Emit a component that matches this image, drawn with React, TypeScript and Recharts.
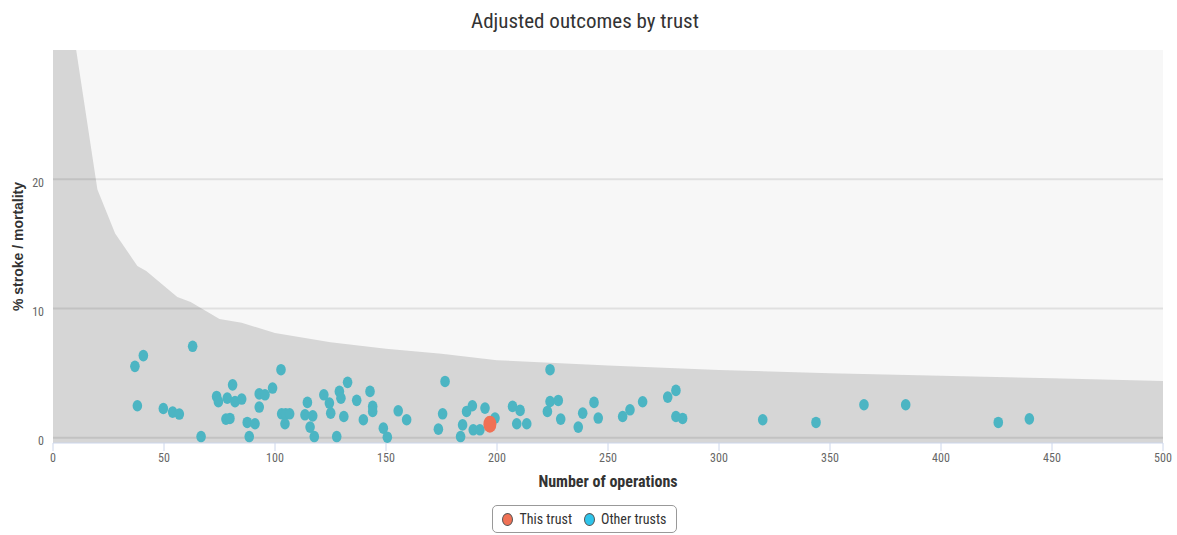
import React from 'react';
import { ComposedChart, Area, Scatter, XAxis, YAxis, CartesianGrid, ReferenceLine } from 'recharts';

const FONT = "'Liberation Sans Narrow', 'Roboto Condensed', Arial, sans-serif";

// upper control limit of the funnel (x = operations, upper = %)
const funnelX = [0, 10, 20, 28, 38, 42, 56, 62, 75, 85, 100, 125, 150, 175, 200, 250, 300, 350, 400, 450, 500];
const funnelUpper = [60, 30.5, 19.2, 15.8, 13.3, 12.9, 10.9, 10.5, 9.2, 8.9, 8.1, 7.4, 6.9, 6.5, 6.0, 5.6, 5.25, 5.0, 4.8, 4.6, 4.4];

const otherX = [
  36.9, 40.7, 38.0, 62.9, 49.7, 53.9, 56.9, 66.7, 73.7, 74.5, 80.9, 78.5, 82, 85, 77.9, 79.7, 87.5, 91, 88.4,
  92.9, 92.9, 95.5, 98.9, 102.7, 103, 104.8, 106.6, 104.5, 113.5, 114.6, 117, 115.8, 117.7, 122, 124.5, 125.1,
  129, 129.7, 132.7, 131, 127.8, 136.8, 139.8, 142.8, 144, 144, 148.8, 150.6, 155.5, 159.3, 176.6, 175.5, 173.6,
  186.3, 184.5, 183.6, 188.9, 189.3, 192.3, 194.6, 199.1, 207, 210.4, 208.9, 213.4, 223.9, 223.9, 222.7, 227.6,
  228.7, 236.6, 238.6, 243.7, 245.6, 256.6, 259.9, 265.6, 276.9, 280.6, 280.6, 283.6, 319.7, 343.7, 365.3,
  384.1, 425.8, 439.8,
];
const otherY = [
  5.53, 6.36, 2.48, 7.08, 2.27, 1.99, 1.84, 0.1, 3.2, 2.8, 4.1, 3.07, 2.8, 3.0, 1.45, 1.5, 1.19, 1.09, 0.1,
  2.38, 3.4, 3.33, 3.85, 5.27, 1.86, 1.86, 1.86, 1.09, 1.78, 2.74, 1.7, 0.83, 0.1, 3.33, 2.69, 1.91,
  3.59, 3.07, 4.29, 1.65, 0.1, 2.9, 1.4, 3.59, 2.43, 2.04, 0.75, 0.05, 2.09, 1.4, 4.36, 1.86, 0.67,
  2.04, 1.0, 0.1, 2.48, 0.62, 0.62, 2.3, 1.53, 2.43, 2.12, 1.09, 1.09, 5.27, 2.81, 2.04, 2.89,
  1.45, 0.83, 1.91, 2.74, 1.53, 1.65, 2.17, 2.79, 3.15, 3.67, 1.65, 1.5, 1.4, 1.19, 2.56,
  2.56, 1.19, 1.47,
];
const thisX = [196.8];
const thisY = [1.06];

const xTicks = [0, 50, 100, 150, 200, 250, 300, 350, 400, 450, 500];
const yTicks = [0, 10, 20];

const funnelData = funnelX.map((x, i) => ({ x, upper: funnelUpper[i] }));
const otherData = otherX.map((x, i) => ({ x, y: otherY[i] }));
const thisData = thisX.map((x, i) => ({ x, y: thisY[i] }));

const TEAL = '#4cb5c3';
const ORANGE = '#f07155';

const dot = (fill: string, rx: number, ry: number) => (p: any) => (
  <ellipse cx={p.cx} cy={p.cy} rx={rx} ry={ry} fill={fill} />
);

export default function App() {
  return (
    <div style={{ position: 'absolute', left: 0, top: 0, width: 1177, height: 535, background: '#fff', fontFamily: FONT }}>
      <div style={{ position: 'absolute', top: 9, left: 0, width: 1170, textAlign: 'center', fontSize: 21, color: '#333' }}>
        Adjusted outcomes by trust
      </div>
      <ComposedChart width={1177} height={535} data={funnelData} margin={{ top: 50, right: 14, bottom: 62, left: 0 }}>
        <CartesianGrid fill="#f7f7f7" horizontal={false} vertical={false} />
        <XAxis
          type="number"
          dataKey="x"
          domain={[0, 500]}
          ticks={xTicks}
          interval={0}
          height={30}
          stroke="#ccd6eb"
          tickSize={8}
          tickMargin={2}
          tick={{ fill: '#666', fontSize: 12, fontFamily: FONT }}
          label={{ value: 'Number of operations', position: 'bottom', offset: 3, fill: '#333', fontSize: 16, fontWeight: 'bold', fontFamily: FONT }}
        />
        <YAxis
          type="number"
          dataKey="y"
          domain={[-0.4, 30]}
          allowDataOverflow
          ticks={yTicks}
          width={53}
          axisLine={false}
          tickLine={false}
          tickSize={0}
          tickMargin={9}
          tick={{ fill: '#666', fontSize: 12, fontFamily: FONT, dy: 3 }}
          label={{ value: '% stroke / mortality', angle: -90, position: 'insideLeft', offset: 18, fill: '#333', fontSize: 14, fontWeight: 'bold', fontFamily: "'Liberation Sans', Arial, sans-serif", style: { textAnchor: 'middle' } }}
        />
        <Area type="linear" dataKey="upper" baseValue="dataMin" fill="#d6d6d6" fillOpacity={1} stroke="none" isAnimationActive={false} />
        {yTicks.map((t) => (
          <ReferenceLine key={t} y={t} stroke="rgba(0,0,0,0.09)" strokeWidth={2} />
        ))}
        <Scatter name="Other trusts" data={otherData} fill={TEAL} shape={dot(TEAL, 4.8, 5.8)} isAnimationActive={false} />
        <Scatter name="This trust" data={thisData} fill={ORANGE} shape={dot(ORANGE, 6.5, 8.5)} isAnimationActive={false} />
      </ComposedChart>
      <div
        style={{
          position: 'absolute', left: 492, top: 505, width: 185, height: 28, boxSizing: 'border-box',
          border: '1px solid #999', borderRadius: 5, display: 'flex', alignItems: 'center', justifyContent: 'center',
          fontSize: 14, color: '#333', gap: 6,
        }}
      >
        <span style={{ display: 'inline-block', width: 11, height: 13, borderRadius: '50%', background: ORANGE, border: '1px solid #555', boxSizing: 'border-box' }} />
        <span>This trust</span>
        <span style={{ display: 'inline-block', width: 11, height: 13, borderRadius: '50%', background: '#2ec4ea', border: '1px solid #555', boxSizing: 'border-box', marginLeft: 6 }} />
        <span>Other trusts</span>
      </div>
    </div>
  );
}
